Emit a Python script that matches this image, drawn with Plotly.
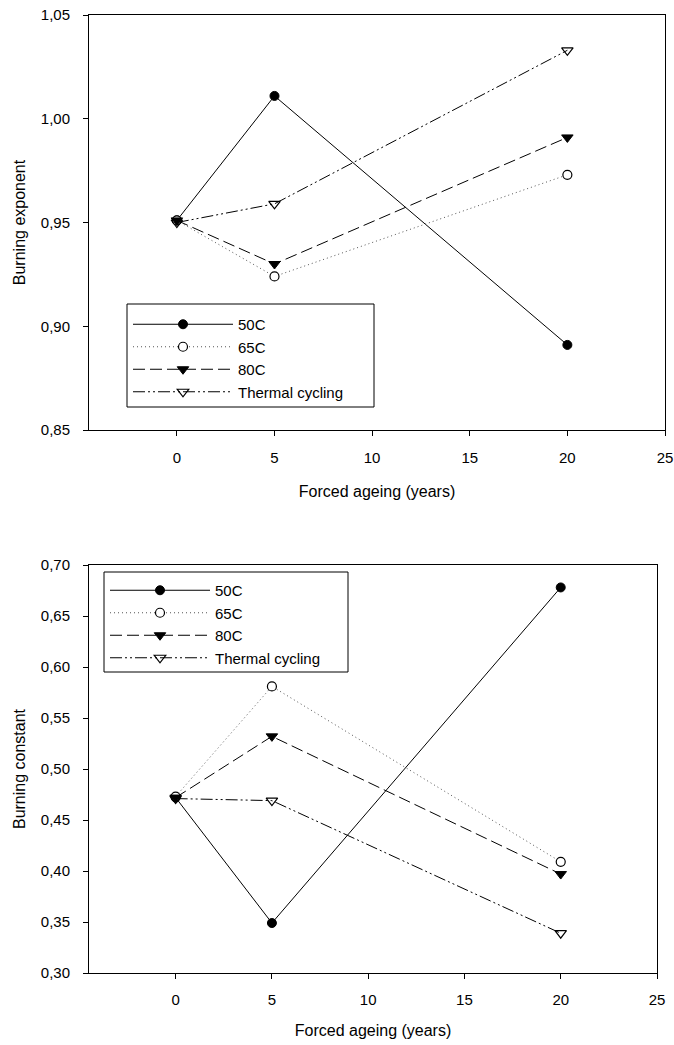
import plotly.graph_objects as go

# ---- data ----
years = [0, 5, 20]
series_names = ["50C", "65C", "80C", "Thermal cycling"]

exp_50 = [0.951, 1.011, 0.891]
exp_65 = [0.951, 0.924, 0.973]
exp_80 = [0.951, 0.930, 0.991]
exp_tc = [0.950, 0.959, 1.033]

const_50 = [0.472, 0.349, 0.678]
const_65 = [0.473, 0.581, 0.409]
const_80 = [0.472, 0.532, 0.397]
const_tc = [0.471, 0.469, 0.339]

x_ticks = [0, 5, 10, 15, 20, 25]
y1_ticks = [0.85, 0.90, 0.95, 1.00, 1.05]
y1_ticktext = ["0,85", "0,90", "0,95", "1,00", "1,05"]
y2_ticks = [0.30, 0.35, 0.40, 0.45, 0.50, 0.55, 0.60, 0.65, 0.70]
y2_ticktext = ["0,30", "0,35", "0,40", "0,45", "0,50", "0,55", "0,60", "0,65", "0,70"]

FONT = "Liberation Sans, Arial, sans-serif"
W, H = 674, 1045

styles = [
    dict(line=dict(color="black", width=1, dash="solid"),
         marker=dict(symbol="circle", size=9, color="black", line=dict(color="black", width=1))),
    dict(line=dict(color="#555555", width=1, dash="1px,3px"),
         marker=dict(symbol="circle", size=9, color="white", line=dict(color="black", width=1.2))),
    dict(line=dict(color="black", width=1, dash="12px,5px"),
         marker=dict(symbol="triangle-down", size=10, color="black", line=dict(color="black", width=1))),
    dict(line=dict(color="black", width=1, dash="12px,3px,2px,3px,2px,3px"),
         marker=dict(symbol="triangle-down-open", size=10, color="black", line=dict(color="black", width=1.2))),
]

fig = go.Figure()

top_series = [exp_50, exp_65, exp_80, exp_tc]
bot_series = [const_50, const_65, const_80, const_tc]

for name, vals, st in zip(series_names, top_series, styles):
    fig.add_trace(go.Scatter(x=years, y=vals, name=name, mode="lines+markers",
                             line=st["line"], marker=st["marker"],
                             xaxis="x", yaxis="y", legend="legend"))
for name, vals, st in zip(series_names, bot_series, styles):
    fig.add_trace(go.Scatter(x=years, y=vals, name=name, mode="lines+markers",
                             line=st["line"], marker=st["marker"],
                             xaxis="x2", yaxis="y2", legend="legend2"))

def px_x(p):
    return p / W

def px_y(p):
    return 1 - p / H

axis_common = dict(showline=True, linecolor="black", linewidth=1, mirror=True,
                   ticks="outside", ticklen=5, tickwidth=1, tickcolor="black",
                   showgrid=False, zeroline=False, automargin=False,
                   tickfont=dict(family=FONT, size=15, color="black"))

legend_common = dict(xanchor="left", yanchor="top",
                     bgcolor="rgba(0,0,0,0)", borderwidth=0,
                     font=dict(family=FONT, size=15, color="black"), itemwidth=100,
                     tracegroupgap=0)

fig.update_layout(
    width=W, height=H,
    margin=dict(l=0, r=0, t=0, b=0),
    paper_bgcolor="white", plot_bgcolor="white",
    font=dict(family=FONT, color="black"),
    xaxis=dict(domain=[px_x(89), px_x(665)], anchor="y", range=[-4.5, 25],
               tickvals=x_ticks, ticklabelstandoff=9, ticklabeloverflow="allow",
               title=dict(text="Forced ageing (years)", font=dict(family=FONT, size=16), standoff=20),
               **axis_common),
    yaxis=dict(domain=[px_y(430), px_y(15)], anchor="x", range=[0.85, 1.05],
               tickvals=y1_ticks, ticktext=y1_ticktext, ticklabelstandoff=10,
               title=dict(text="Burning exponent", font=dict(family=FONT, size=16), standoff=11),
               **axis_common),
    xaxis2=dict(domain=[px_x(89), px_x(657)], anchor="y2", range=[-4.5, 25],
                tickvals=x_ticks, ticklabelstandoff=8, ticklabeloverflow="allow",
                title=dict(text="Forced ageing (years)", font=dict(family=FONT, size=16), standoff=17),
                **axis_common),
    yaxis2=dict(domain=[px_y(973), px_y(565)], anchor="x2", range=[0.30, 0.70],
                tickvals=y2_ticks, ticktext=y2_ticktext, ticklabelstandoff=10,
                title=dict(text="Burning constant", font=dict(family=FONT, size=16), standoff=11),
                **axis_common),
    legend=dict(x=px_x(128), y=px_y(308), **legend_common),
    legend2=dict(x=px_x(105), y=px_y(574), **legend_common),
    shapes=[
        dict(type="rect", xref="paper", yref="paper",
             x0=px_x(127), x1=px_x(374), y0=px_y(407), y1=px_y(304),
             line=dict(color="black", width=1), fillcolor="rgba(0,0,0,0)", layer="above"),
        dict(type="rect", xref="paper", yref="paper",
             x0=px_x(104), x1=px_x(348), y0=px_y(672), y1=px_y(572),
             line=dict(color="black", width=1), fillcolor="rgba(0,0,0,0)", layer="above"),
    ],
)

fig.write_html(
    "out.html",
    config={"displayModeBar": False},
    post_script="document.body.style.margin='0';document.body.style.padding='0';"
                "document.documentElement.style.overflow='hidden';",
)
